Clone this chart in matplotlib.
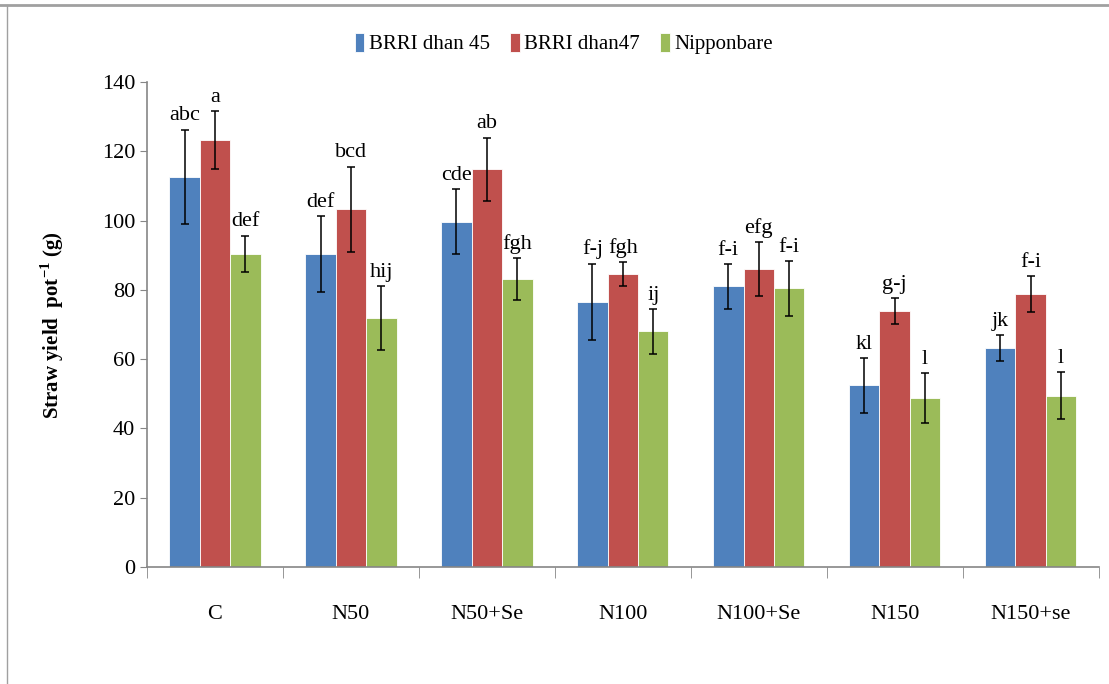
import numpy as np
import matplotlib.pyplot as plt
from matplotlib.lines import Line2D

# data
groups = ['C', 'N50', 'N50+Se', 'N100', 'N100+Se', 'N150', 'N150+se']
series = ['BRRI dhan 45', 'BRRI dhan47', 'Nipponbare']

brri45 = [112.6, 90.3, 99.7, 76.5, 81.0, 52.5, 63.2]
brri47 = [123.3, 103.3, 114.8, 84.6, 85.9, 73.9, 78.7]
nippon = [90.4, 71.9, 83.1, 68.0, 80.5, 48.7, 49.4]

err45 = [13.7, 11.0, 9.3, 11.1, 6.5, 7.9, 3.8]
err47 = [8.4, 12.3, 9.2, 3.4, 7.8, 3.8, 5.2]
errnip = [5.3, 9.2, 6.1, 6.5, 7.9, 7.2, 6.8]

let45 = ['abc', 'def', 'cde', 'f-j', 'f-i', 'kl', 'jk']
let47 = ['a', 'bcd', 'ab', 'fgh', 'efg', 'g-j', 'f-i']
letnip = ['def', 'hij', 'fgh', 'ij', 'f-i', 'l', 'l']

colors = ['#4f81bd', '#c0504d', '#9bbb59']

plt.rcParams['font.family'] = ['Liberation Serif', 'DejaVu Serif']
plt.rcParams['mathtext.fontset'] = 'custom'
plt.rcParams['mathtext.rm'] = 'Liberation Serif'
plt.rcParams['mathtext.bf'] = 'Liberation Serif:bold'

fig = plt.figure(figsize=(11.09, 6.84), dpi=100)
ax = fig.add_axes([0.1326, 0.171, 0.858, 0.709])

x = np.arange(len(groups))
w = 0.224
vals = [brri45, brri47, nippon]
errs = [err45, err47, errnip]
lets = [let45, let47, letnip]

for i in range(3):
    pos = x + (i - 1) * w
    ax.bar(pos, vals[i], w, color=colors[i], edgecolor='white', linewidth=0.6,
           label=series[i], zorder=2)
    ax.errorbar(pos, vals[i], yerr=errs[i], fmt='none', ecolor='black',
                elinewidth=1.1, capsize=3, capthick=1.1, zorder=3)
    for p, v, e, t in zip(pos, vals[i], errs[i], lets[i]):
        ax.text(p, v + e + 1.2, t, ha='center', va='bottom', fontsize=16)

ax.set_xlim(-0.5, len(groups) - 0.5)
ax.set_ylim(0, 140)
ax.set_yticks(range(0, 141, 20))
ax.set_xticks(x)
ax.set_xticklabels(groups, fontsize=16)
ax.set_xticks(np.arange(-0.5, len(groups), 1), minor=True)
ax.tick_params(axis='x', which='major', length=0, pad=27)
ax.tick_params(axis='x', which='minor', length=8, color='#868686', direction='out')
ax.tick_params(axis='y', labelsize=16, length=5, color='#868686', direction='out')

for s in ['top', 'right']:
    ax.spines[s].set_visible(False)
for s in ['left', 'bottom']:
    ax.spines[s].set_color('#868686')
    ax.spines[s].set_linewidth(1.2)

ax.set_ylabel(r'Straw yield  pot$^{\mathbf{-1}}$ (g)', fontsize=15,
              fontweight='bold', labelpad=26)

ax.legend(loc='upper center', bbox_to_anchor=(0.438, 1.14), ncol=3,
          frameon=False, prop={'family': 'Liberation Serif', 'size': 15},
          handlelength=0.45, handleheight=1.0,
          handletextpad=0.2, columnspacing=1.0)

# outer frame lines (top and left)
fig.add_artist(Line2D([0, 1], [1 - 5 / 684, 1 - 5 / 684], color='#a0a0a0',
                      linewidth=2, transform=fig.transFigure))
fig.add_artist(Line2D([7 / 1109, 7 / 1109], [0, 1 - 5 / 684], color='#a0a0a0',
                      linewidth=1, transform=fig.transFigure))

fig.savefig('out.png', dpi=100)
